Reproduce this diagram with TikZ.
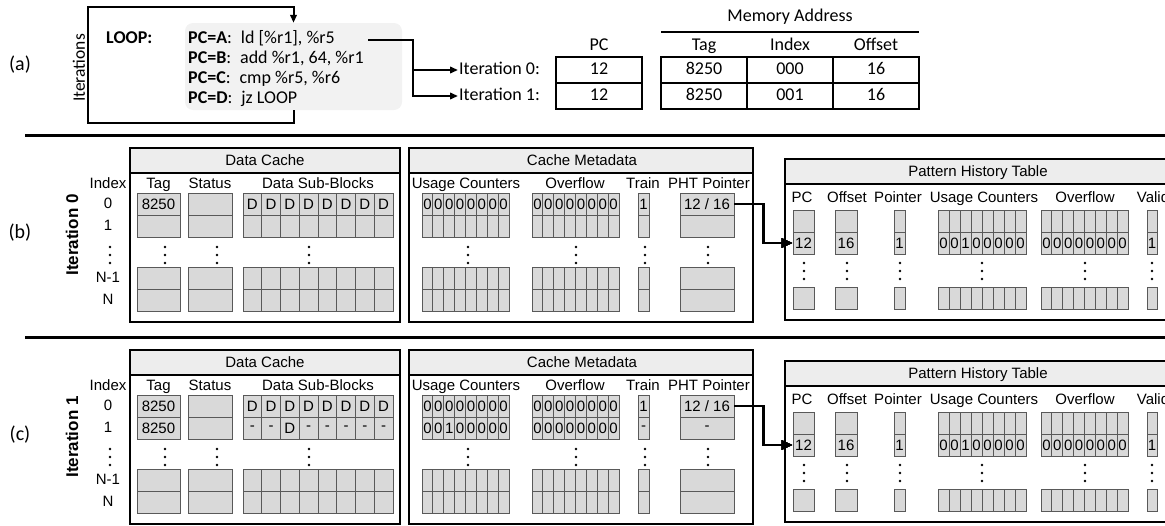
\documentclass[tikz,border=0pt]{standalone}
\usepackage{fontspec}
\setmainfont{Carlito}
\newfontfamily\arialfont{Liberation Sans}
\usetikzlibrary{arrows.meta}

\tikzset{
  cell/.style={draw=black!65, fill=black!15, line width=0.9pt, minimum height=22pt,
    inner sep=0pt, font=\arialfont\fontsize{15}{15}\selectfont},
  box/.style={draw=black, line width=2.4pt},
  hdr/.style={box, fill=black!7},
  lbl/.style={inner sep=0pt, text height=11pt, text depth=3pt, font=\arialfont\fontsize{15}{15}\selectfont},
  itlbl/.style={rotate=90, inner sep=0pt, font=\arialfont\bfseries\fontsize{17}{17}\selectfont},
  part/.style={font=\fontsize{20}{22}\selectfont},
  code/.style={anchor=base west, inner sep=0pt, font=\fontsize{18}{20}\selectfont},
  tlbl/.style={inner sep=1pt, text height=13pt, text depth=4pt, font=\fontsize{18}{20}\selectfont},
  tcell/.style={tlbl, draw, line width=1.2pt, minimum width=86pt, minimum height=26pt},
  flowa/.style={line width=2pt, -{Triangle[length=8pt,width=6.5pt]}},
  flowb/.style={line width=2.6pt, -{Triangle[length=11pt,width=9pt]}},
  sep/.style={line width=3pt}
}

% a row of equal cells, with or without entries
\newcommand{\cellrow}[5]{%
  \foreach \val [count=\kk from 0] in {#5}
    \node[cell, minimum width=#4pt] (#1\kk) at ({#2+(\kk+0.5)*#4},#3) {\val};}
\newcommand{\blankrow}[4]{%
  \foreach \kk in {0,...,7}
    \node[cell, minimum width=#4pt] (#1\kk) at ({#2+(\kk+0.5)*#4},#3) {};}
\newcommand{\vdotsat}[2]{\foreach \yy in {0,8,16} \fill (#1,#2+\yy) circle (1.3pt);}

\begin{document}
\begin{tikzpicture}[x=1pt,y=-1pt]
  \useasboundingbox (0,0) rectangle (1165,525);
  \clip (0,0) rectangle (1165,525);

  % (a) the loop
  \node[part] (parta) at (20,65) {(a)};
  \node[rotate=90, inner sep=0pt, font=\fontsize{17.5}{17.5}\selectfont] (iters) at (79,68) {Iterations};
  \node[fill=black!5, rounded corners=8pt, minimum width=217pt, minimum height=87pt] (code) at (293.5,66.5) {};
  \node[code, font=\bfseries\fontsize{18}{20}\selectfont] (loop) at (106,43) {LOOP:};
  \node[code] (pcA) at (188,43) {\textbf{PC=A}:\enspace ld [\%r1], \%r5};
  \node[code] (pcB) at (188,63) {\textbf{PC=B}:\enspace add \%r1, 64, \%r1};
  \node[code] (pcC) at (188,83) {\textbf{PC=C}:\enspace cmp \%r5, \%r6};
  \node[code] (pcD) at (188,103) {\textbf{PC=D}:\enspace jz LOOP};
  \draw[flowa] (code.south) -- ++(0,13) -| (88,7) -| (code.north);

  % (a) the two accesses
  \node[tlbl] (memaddr) at (790,17) {Memory Address};
  \draw[line width=1.5pt] (661,32) -- (919,32);
  \foreach \x/\h in {599/PC,704/Tag,790/Index,876/Offset}
    \node[tlbl] (h\h) at (\x,46) {\h};
  \foreach \x/\a/\b [count=\n] in {599/12/12,704/8250/8250,790/000/001,876/16/16}{
    \node[tcell] (ra\n) at (\x,70) {\a};
    \node[tcell] (rb\n) at (\x,96) {\b};
  }
  \node[tlbl, anchor=west] (it0) at (458,70) {Iteration 0:};
  \node[tlbl, anchor=west] (it1) at (458,96) {Iteration 1:};
  \coordinate (ldout) at (368,40);
  \coordinate (split) at (413,40);
  \draw[flowa] (ldout) -- (split) |- (it1.west);
  \draw[flowa] (split |- it0.west) -- (it0.west);

  % separators
  \draw[sep] (25,135) -- (1165,135);
  \draw[sep] (25,337) -- (1165,337);

  % (b) and (c): state after each iteration
  \foreach \iter/\dy/\tg in {0/0/b,1/202/c}{
    \begin{scope}[shift={(0,\dy)}]
      \node[part] (part\tg) at (20,233) {(\tg)};
      \node[itlbl] (iter\iter) at (72,235) {Iteration \iter};
      \foreach \y/\t [count=\n] in {184/Index,204/0,226/1,278/N-1,300/N}
        \node[lbl] (ix\iter\n) at (108,\y) {\t};
      % data cache
      \draw[hdr] (130,148) rectangle (400,173);
      \draw[box] (130,148) rectangle (400,322);
      \node[lbl] (dc\iter) at (265,161) {Data Cache};
      \foreach \x/\t [count=\n] in {158.5/Tag,210/Status,318/Data Sub-Blocks}
        \node[lbl] (dcl\iter\n) at (\x,184) {\t};
      % cache metadata
      \draw[hdr] (409,148) rectangle (753,173);
      \draw[box] (409,148) rectangle (753,322);
      \node[lbl] (cm\iter) at (582,161) {Cache Metadata};
      \foreach \x/\t [count=\n] in {466/Usage Counters,575/Overflow,643/Train,709/PHT Pointer}
        \node[lbl] (cml\iter\n) at (\x,184) {\t};
      % row 0
      \node[cell, minimum width=43pt] (tg\iter a) at (158.5,204) {8250};
      \node[cell, minimum width=44pt] (st\iter a) at (210,204) {};
      \cellrow{db\iter a}{243}{204}{18.75}{D,D,D,D,D,D,D,D}
      \cellrow{uc\iter a}{422}{204}{10.875}{0,0,0,0,0,0,0,0}
      \cellrow{of\iter a}{532}{204}{10.875}{0,0,0,0,0,0,0,0}
      \node[cell, minimum width=11pt] (tr\iter a) at (643.5,204) {1};
      \node[cell, minimum width=54pt] (pp\iter a) at (707,204) {12 / 16};
      % row 1
      \ifnum\iter=0
        \node[cell, minimum width=43pt] (tg\iter b) at (158.5,226) {};
        \blankrow{db\iter b}{243}{226}{18.75}
        \blankrow{uc\iter b}{422}{226}{10.875}
        \blankrow{of\iter b}{532}{226}{10.875}
        \node[cell, minimum width=11pt] (tr\iter b) at (643.5,226) {};
        \node[cell, minimum width=54pt] (pp\iter b) at (707,226) {};
      \else
        \node[cell, minimum width=43pt] (tg\iter b) at (158.5,226) {8250};
        \cellrow{db\iter b}{243}{226}{18.75}{-,-,D,-,-,-,-,-}
        \cellrow{uc\iter b}{422}{226}{10.875}{0,0,1,0,0,0,0,0}
        \cellrow{of\iter b}{532}{226}{10.875}{0,0,0,0,0,0,0,0}
        \node[cell, minimum width=11pt] (tr\iter b) at (643.5,226) {-};
        \node[cell, minimum width=54pt] (pp\iter b) at (707,226) {-};
      \fi
      \node[cell, minimum width=44pt] (st\iter b) at (210,226) {};
      % rows N-1 and N
      \foreach \y/\r in {278/c,300/d}{
        \node[cell, minimum width=43pt] (tg\iter\r) at (158.5,\y) {};
        \node[cell, minimum width=44pt] (st\iter\r) at (210,\y) {};
        \blankrow{db\iter\r}{243}{\y}{18.75}
        \blankrow{uc\iter\r}{422}{\y}{10.875}
        \blankrow{of\iter\r}{532}{\y}{10.875}
        \node[cell, minimum width=11pt] (tr\iter\r) at (643.5,\y) {};
        \node[cell, minimum width=54pt] (pp\iter\r) at (707,\y) {};
      }
      \foreach \x in {110,165,217,309,468,576,645,708} \vdotsat{\x}{247}
      % pattern history table
      \draw[hdr] (785,159) rectangle (1175,184);
      \draw[box] (785,159) rectangle (1175,320);
      \node[lbl] (pht\iter) at (978,172) {Pattern History Table};
      \foreach \x/\t [count=\n] in {802/PC,847/Offset,898/Pointer,984/Usage Counters,1085/Overflow,1153/Valid}
        \node[lbl] (phtl\iter\n) at (\x,198) {\t};
      \foreach \x/\w/\t [count=\n] in {803.5/21/12,846/22/16,899.5/11/1,1152/10/1}{
        \node[cell, minimum width=\w pt] (pa\iter\n) at (\x,221) {};
        \node[cell, minimum width=\w pt] (pb\iter\n) at (\x,243) {\t};
        \node[cell, minimum width=\w pt] (pc\iter\n) at (\x,298) {};
      }
      \blankrow{pu\iter a}{938}{221}{11}
      \cellrow{pu\iter b}{938}{243}{11}{0,0,1,0,0,0,0,0}
      \blankrow{pu\iter c}{938}{298}{11}
      \blankrow{po\iter a}{1041}{221}{10.875}
      \cellrow{po\iter b}{1041}{243}{10.875}{0,0,0,0,0,0,0,0}
      \blankrow{po\iter c}{1041}{298}{10.875}
      \foreach \x in {804,847,900,982,1085,1152} \vdotsat{\x}{263}
      % pointer into the PHT
      \draw[flowb] (pp\iter a.east) -- ++(29,0) |- (pb\iter1.west);
    \end{scope}
  }
\end{tikzpicture}
\end{document}
